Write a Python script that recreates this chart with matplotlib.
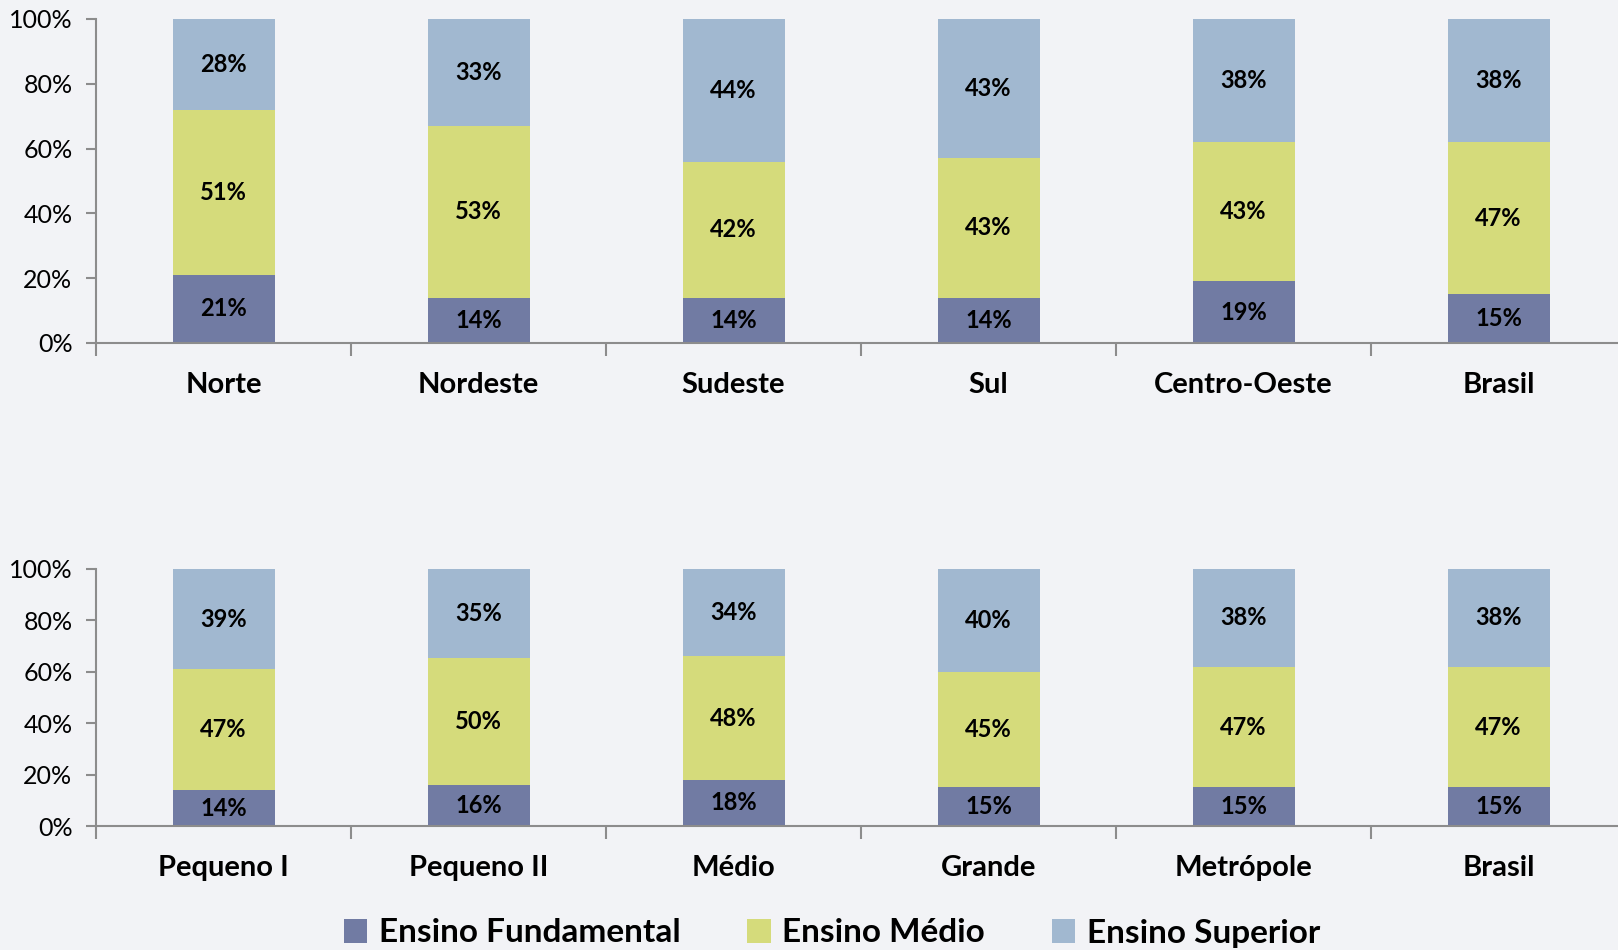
import matplotlib
matplotlib.use("Agg")
import matplotlib.pyplot as plt
from matplotlib.patches import Patch
import numpy as np

plt.rcParams['font.family'] = ['Lato', 'DejaVu Sans']

regions = ["Norte", "Nordeste", "Sudeste", "Sul", "Centro-Oeste", "Brasil"]
reg_fund = [21, 14, 14, 14, 19, 15]
reg_medio = [51, 53, 42, 43, 43, 47]
reg_sup = [28, 33, 44, 43, 38, 38]

sizes = ["Pequeno I", "Pequeno II", "Médio", "Grande", "Metrópole", "Brasil"]
size_fund = [14, 16, 18, 15, 15, 15]
size_medio = [47, 50, 48, 45, 47, 47]
size_sup = [39, 35, 34, 40, 38, 38]

series_names = ["Ensino Fundamental", "Ensino Médio", "Ensino Superior"]
colors = ["#717BA3", "#D5DB7B", "#A1B8D0"]
yticks = [0, 20, 40, 60, 80, 100]
ytick_labels = ["0%", "20%", "40%", "60%", "80%", "100%"]

BG = "#F2F3F6"
AXC = "#8C8C8C"

fig = plt.figure(figsize=(16.18, 9.5), dpi=100, facecolor=BG)


def draw(ax, cats, fund, med, sup):
    x = np.arange(len(cats))
    data = np.array([fund, med, sup], dtype=float)
    tot = data.sum(axis=0)
    share = data / tot * 100
    bottom = np.zeros(len(cats))
    for i in range(3):
        bars = ax.bar(x, share[i], 0.4, bottom=bottom, color=colors[i],
                      edgecolor='none', zorder=2)
        for j, b in enumerate(bars):
            ax.text(b.get_x() + b.get_width() / 2, bottom[j] + share[i][j] / 2,
                    f"{int(data[i][j])}%", ha='center', va='center',
                    fontsize=17, fontweight='bold', color='black', zorder=3)
        bottom += share[i]
    ax.set_xlim(-0.5, len(cats) - 0.5)
    ax.set_ylim(0, 100)
    ax.set_facecolor('none')
    for s in ['top', 'right']:
        ax.spines[s].set_visible(False)
    for s in ['left', 'bottom']:
        ax.spines[s].set_color(AXC)
        ax.spines[s].set_linewidth(1.5)
    ax.set_yticks(yticks)
    ax.set_yticklabels(ytick_labels)
    ax.tick_params(axis='y', length=7, width=1.5, color=AXC, pad=10,
                   labelsize=18, labelcolor='black')
    ax.set_xticks(x)
    ax.set_xticklabels(cats, fontweight='bold')
    ax.tick_params(axis='x', which='major', length=0, pad=21, labelsize=21)
    ax.set_xticks(np.arange(-0.5, len(cats) - 0.4, 1.0), minor=True)
    ax.tick_params(axis='x', which='minor', length=9, width=1.5, color=AXC,
                   direction='out')


ax1 = fig.add_axes([96 / 1618, 1 - 343 / 950, 1530 / 1618, 324 / 950])
draw(ax1, regions, reg_fund, reg_medio, reg_sup)
ax2 = fig.add_axes([96 / 1618, 1 - 826 / 950, 1530 / 1618, 257 / 950])
draw(ax2, sizes, size_fund, size_medio, size_sup)

handles = [Patch(facecolor=c, edgecolor='none', label=n) for c, n in zip(colors, series_names)]
fig.legend(handles=handles, loc='center', bbox_to_anchor=(832 / 1618, 1 - 933 / 950),
           ncol=3, frameon=False, prop={'size': 24, 'weight': 'bold'},
           handlelength=0.7, handleheight=0.7, handletextpad=0.35,
           columnspacing=2.0, borderaxespad=0, borderpad=0)

fig.savefig("out.png", dpi=100, facecolor=BG)
